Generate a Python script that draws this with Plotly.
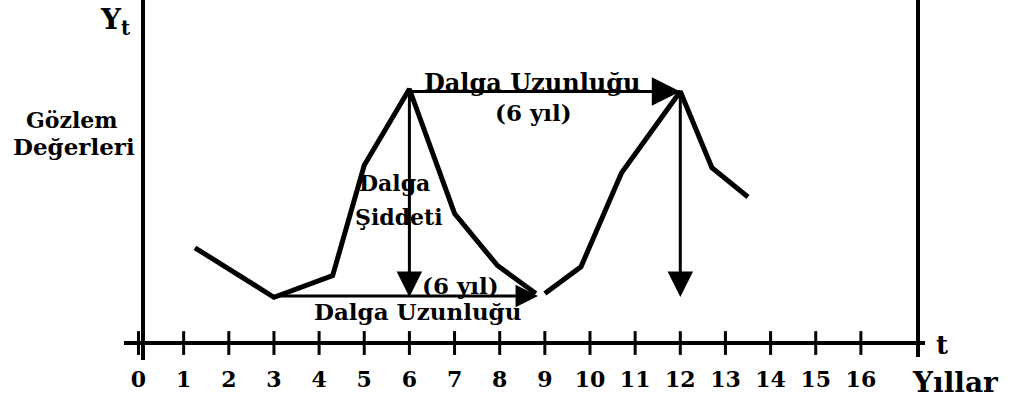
import plotly.graph_objects as go

# ---- data ----
years = [1.25, 3.0, 4.3, 5.0, 6.0, 7.0, 7.95, 8.8, None, 9.0, 9.8, 10.7, 12.0, 12.7, 13.5]
values = [3.75, 1.8, 2.65, 7.0, 10.0, 5.1, 3.05, 1.95, None, 1.95, 3.0, 6.7, 9.9, 6.9, 5.75]
tick_years = list(range(0, 17))
tick_labels = [str(v) for v in tick_years]
peak_years = [6.0, 12.0]
peak_level = 9.9
trough_year = 3.0
trough_end_year = 8.85
trough_level = 1.85
bottom_level = 1.81

FONT = "DejaVu Serif"
W, H = 1009, 403

fig = go.Figure()
fig.add_trace(go.Scatter(x=years, y=values, mode="lines",
                         line=dict(color="black", width=5), connectgaps=False,
                         hoverinfo="skip", showlegend=False))
fig.add_trace(go.Scatter(x=tick_years, y=[0] * len(tick_years), mode="markers",
                         marker=dict(symbol="line-ns", size=17,
                                     line=dict(color="black", width=3)),
                         hoverinfo="skip", showlegend=False))

arrows = []
def arrow(x, y, ax, ay, size):
    arrows.append(dict(x=x, y=y, ax=ax, ay=ay, xref="x", yref="y", axref="x", ayref="y",
                       text="", showarrow=True, arrowhead=2, arrowsize=size,
                       arrowwidth=3, arrowcolor="black"))

arrow(peak_years[1], peak_level, peak_years[0], peak_level, 1.9)
arrow(trough_end_year, trough_level, trough_year, trough_level, 1.5)
arrow(peak_years[0], bottom_level, peak_years[0], 10.0, 1.7)
arrow(peak_years[1], bottom_level, peak_years[1], peak_level, 1.7)

texts = [
    dict(x=8.72, y=10.24, text="Dalga Uzunluğu", size=24, xanchor="center"),
    dict(x=8.74, y=9.09, text="(6 yıl)", size=23, xanchor="center"),
    dict(x=7.14, y=2.28, text="(6 yıl)", size=23, xanchor="center"),
    dict(x=6.17, y=1.26, text="Dalga Uzunluğu", size=23, xanchor="center"),
    dict(x=4.84, y=6.30, text="Dalga", size=22, xanchor="left"),
    dict(x=4.75, y=4.96, text="Şiddeti", size=22, xanchor="left"),
]
for t in texts:
    arrows.append(dict(x=t["x"], y=t["y"], xref="x", yref="y", text=t["text"],
                       showarrow=False, xanchor=t["xanchor"], yanchor="middle",
                       font=dict(size=t["size"], family=FONT, color="black", weight="bold")))

paper_texts = [
    dict(x=72 / W, y=1 - 120 / H, text="Gözlem", size=22, xanchor="center", yanchor="middle"),
    dict(x=74 / W, y=1 - 146 / H, text="Değerleri", size=23, xanchor="center", yanchor="middle"),
    dict(x=132 / W, y=1 - 1 / H, text="Y<sub>t</sub>", size=28, xanchor="right", yanchor="top"),
    dict(x=942 / W, y=1 - 345 / H, text="t", size=26, xanchor="center", yanchor="middle"),
    dict(x=955 / W, y=1 - 382 / H, text="Yıllar", size=28, xanchor="center", yanchor="middle"),
]
for t in paper_texts:
    arrows.append(dict(x=t["x"], y=t["y"], xref="paper", yref="paper", text=t["text"],
                       showarrow=False, xanchor=t["xanchor"], yanchor=t["yanchor"],
                       font=dict(size=t["size"], family=FONT, color="black", weight="bold")))

fig.update_layout(
    width=W, height=H,
    margin=dict(l=0, r=0, t=0, b=0),
    paper_bgcolor="white", plot_bgcolor="white",
    font=dict(family=FONT, color="black", weight="bold"),
    annotations=arrows,
    shapes=[dict(type="line", xref="paper", yref="paper",
                 x0=918 / W, x1=918 / W, y0=(H - 357) / H, y1=1,
                 line=dict(color="black", width=4))],
    xaxis=dict(domain=[124 / W, 925 / W], range=[-0.3212, 17.42],
               anchor="free", position=(H - 343) / H,
               showline=True, linewidth=4, linecolor="black",
               showgrid=False, zeroline=False, ticks="",
               tickvals=tick_years, ticktext=tick_labels,
               tickfont=dict(size=22, family=FONT, color="black", weight="bold"),
               ticklabelstandoff=16),
    yaxis=dict(domain=[(H - 360) / H, 1], range=[-0.669, 13.504],
               anchor="free", position=143 / W,
               showline=True, linewidth=4, linecolor="black",
               showgrid=False, zeroline=False, ticks="", showticklabels=False),
    showlegend=False,
)

fig.write_html("out.html", config={"displayModeBar": False},
               post_script="document.body.style.margin='0';document.body.style.overflow='hidden';")
